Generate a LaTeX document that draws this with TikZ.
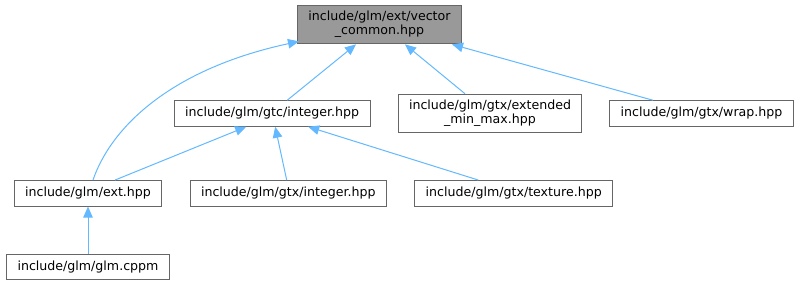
\documentclass[tikz,border=0pt]{standalone}
\usepackage{fontspec}
\setmainfont{DejaVu Sans}
\usepackage{tikz}
\usetikzlibrary{arrows.meta}

\definecolor{edgeblue}{HTML}{63B8FF}
\definecolor{boxgray}{HTML}{666666}
\definecolor{topgray}{HTML}{999999}

\tikzset{
  file/.style={draw=boxgray,fill=white,line width=1pt,inner xsep=11pt,inner ysep=6pt,
    minimum height=25.5pt,align=center,font=\fontsize{12.6}{14}\selectfont},
  curfile/.style={file,fill=topgray}
}

\begin{document}
\begin{tikzpicture}[->,>={Triangle[length=11pt,width=9.5pt]},line width=1pt,edgeblue]
    \useasboundingbox (0,0) rectangle (801pt,-285pt);

    \node[curfile,text=black] (vc)   at (379.5pt,-24.6pt) {include/glm/ext/vector\\\_common.hpp};
    \node[file,text=black]    (gtci) at (272.2pt,-113.5pt) {include/glm/gtc/integer.hpp};
    \node[file,text=black]    (emm)  [right of=gtci,node distance=217.8pt] {include/glm/gtx/extended\\\_min\_max.hpp};
    \node[file,text=black]    (wrap) [right of=emm,node distance=211.5pt] {include/glm/gtx/wrap.hpp};
    \node[file,text=black]    (ext)  at (88pt,-193.3pt) {include/glm/ext.hpp};
    \node[file,text=black]    (gtxi) [right of=ext,node distance=200.3pt] {include/glm/gtx/integer.hpp};
    \node[file,text=black]    (tex)  [right of=gtxi,node distance=225.4pt] {include/glm/gtx/texture.hpp};
    \node[file,text=black]    (cppm) [below of=ext,node distance=73.5pt] {include/glm/glm.cppm};

    \draw ([xshift=5pt]ext.north) .. controls +(17pt,50pt) and +(-132pt,-28.5pt) .. ([shift={(2pt,3pt)}]vc.south west);
    \draw ([xshift=15pt]gtci.north) -- ([xshift=-23.5pt]vc.south);
    \draw ([xshift=-25pt]emm.north) -- ([xshift=25.5pt]vc.south);
    \draw ([xshift=-48.5pt]wrap.north) -- ([xshift=72.5pt]vc.south);
    \draw ([xshift=27pt]ext.north) -- ([xshift=-26pt]gtci.south);
    \draw ([xshift=-1.6pt]gtxi.north) -- ([xshift=3pt]gtci.south);
    \draw ([xshift=-35.4pt]tex.north) -- ([xshift=36pt]gtci.south);
    \path (cppm) edge (ext);
\end{tikzpicture}
\end{document}
